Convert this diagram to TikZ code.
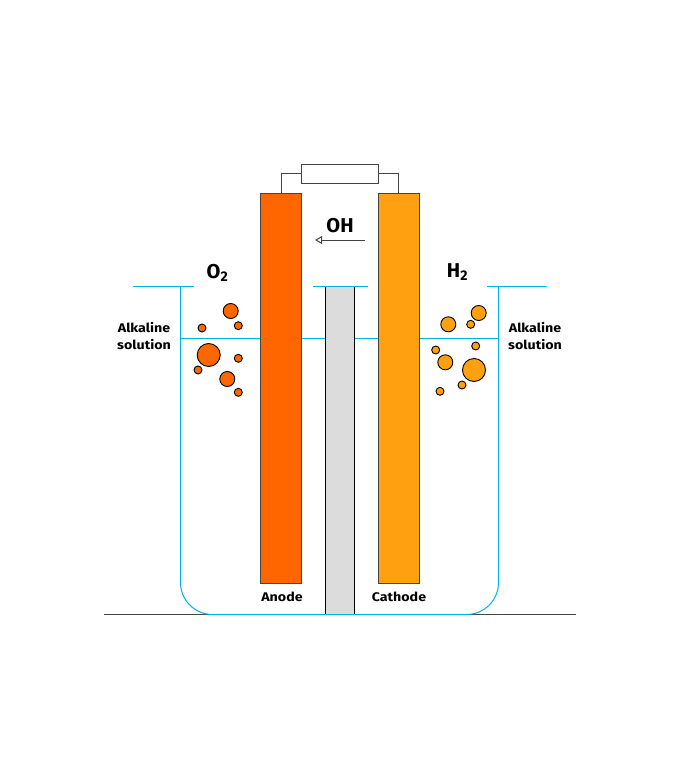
\documentclass[tikz,border=0pt]{standalone}
\usepackage{fontspec}
\setmainfont{Fira Sans}
\newfontfamily\widefont[FakeStretch=1.14]{Fira Sans}
\usetikzlibrary{arrows.meta}
\definecolor{vesselblue}{HTML}{00B4DC}
\definecolor{anodeorange}{HTML}{FF6600}
\definecolor{cathodeorange}{HTML}{FFA010}
\definecolor{wiregray}{HTML}{444444}
\definecolor{membranegray}{HTML}{DCDCDC}
\tikzset{
	water/.style={vesselblue,line width=1pt},
	electrode/.style={draw=wiregray,line width=1pt,inner sep=0pt,minimum width=41pt,minimum height=390pt},
	bubble/.style={draw=black,line width=0.9pt},
	biglabel/.style={inner sep=0pt,font=\fontsize{20}{20}\selectfont\bfseries},
	smalllabel/.style={inner sep=0pt,align=center,font=\widefont\fontsize{12.5}{17.5}\selectfont\bfseries}
}

\begin{document}
\begin{tikzpicture}[x=1pt,y=-1pt]
	\def\ytop{286.5}
	\def\ylevel{338}
	\def\ybase{614.5}
	\def\xleft{180.5}
	\def\xright{498.5}
	\def\radsm{4}
	\def\radmd{7.5}
	\def\radlg{11.5}

	\useasboundingbox (0,0) rectangle (680,780);

	% table and liquid level
	\draw[wiregray,line width=1pt] (104,\ybase) -- (576,\ybase);
	\draw[water] (\xleft,\ylevel) -- (\xright,\ylevel);

	% membrane
	\fill[membranegray] (325.5,\ytop) rectangle (354.5,\ybase);
	\draw[black,line width=1pt] (325.5,\ytop) -- (325.5,\ybase);
	\draw[black,line width=1pt] (354.5,\ytop) -- (354.5,\ybase);

	% vessel and rims
	\draw[water,rounded corners=32pt] (\xleft,\ytop) -- (\xleft,\ybase) -- (\xright,\ybase) -- (\xright,\ytop);
	\draw[water] (133,\ytop) -- (194,\ytop);
	\draw[water] (313,\ytop) -- (368,\ytop);
	\draw[water] (487,\ytop) -- (547,\ytop);

	% electrodes and load
	\node[electrode,fill=anodeorange] (anode) at (281.4,388) {};
	\node[electrode,fill=cathodeorange] (cathode) at (398.6,388) {};
	\node[draw=wiregray,line width=1pt,inner sep=0pt,minimum width=77pt,minimum height=19pt] (load) at (340,173.5) {};
	\draw[wiregray,line width=1pt] (anode.north) |- (load.west);
	\draw[wiregray,line width=1pt] (cathode.north) |- (load.east);

	% ion arrow
	\node[biglabel] (ion) at (340,225.5) {OH};
	\coordinate (iontail) at (364.5,240);
	\coordinate (ionhead) at (315,240);
	\draw[-{Triangle[open,length=7pt,width=8pt]},wiregray,line width=1pt] (iontail) -- (ionhead);

	% gas bubbles
	\foreach \x/\y/\r in {230.7/311/\radmd,238.3/325.7/\radsm,202/328/\radsm,208.7/355/\radlg,238.3/358.3/\radsm,198/370/\radsm,227.3/379/\radmd,238.3/392.3/\radsm}
		\draw[bubble,fill=anodeorange] (\x,\y) circle (\r);
	\foreach \x/\y/\r in {478.7/313/\radmd,448.3/324.3/\radmd,470.7/324.3/\radsm,475.7/346/\radsm,435.7/350/\radsm,445.3/362.3/\radmd,474/370/\radlg,462/385/\radsm,440/391.3/\radsm}
		\draw[bubble,fill=cathodeorange] (\x,\y) circle (\r);

	% labels
	\node[biglabel] (oxygen) at (217.5,272.5) {O\textsubscript{2}};
	\node[biglabel] (hydrogen) at (457.5,272.5) {H\textsubscript{2}};
	\node[smalllabel] (alkleft) at (144,336) {Alkaline\\solution};
	\node[smalllabel] (alkright) at (535,336) {Alkaline\\solution};
	\node[smalllabel] (anodelabel) at (282,597) {Anode};
	\node[smalllabel] (cathodelabel) at (399,597) {Cathode};
\end{tikzpicture}
\end{document}
